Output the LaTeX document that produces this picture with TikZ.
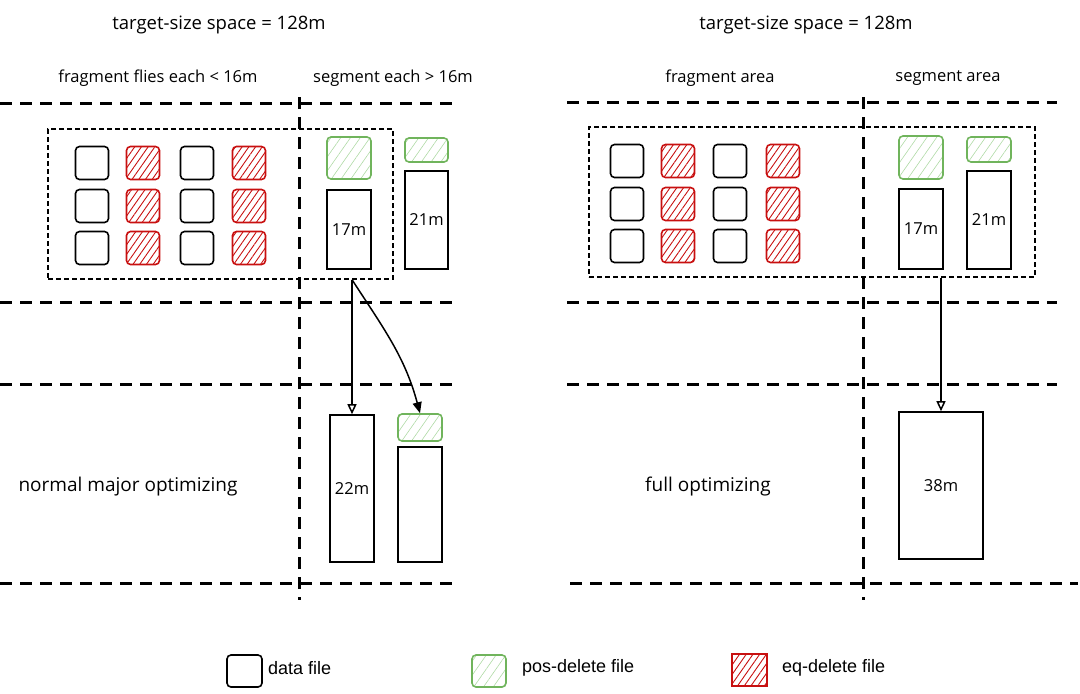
\documentclass[tikz,border=0pt]{standalone}
\usepackage{fontspec}
\setmainfont{Open Sans}
\newfontfamily\legfont{Liberation Sans}
\usetikzlibrary{patterns.meta,arrows.meta}
\definecolor{hred}{RGB}{200,16,16}
\definecolor{hgreen}{RGB}{112,180,92}
\definecolor{hgreenl}{RGB}{175,218,165}
\begin{document}
\begin{tikzpicture}[x=1pt,y=-1pt,
  file/.style={draw, line width=1.6pt, rounded corners=4pt, minimum width=33pt, minimum height=33pt, inner sep=0pt},
  datafile/.style={file},
  eqfile/.style={file, draw=hred, pattern={Lines[angle=55,distance=5.5pt,line width=0.9pt]}, pattern color=hred},
  posfile/.style={file, draw=hgreen, pattern={Lines[angle=55,distance=8pt,line width=0.6pt]}, pattern color=hgreenl},
  segbox/.style={draw, line width=1.6pt, inner sep=0pt, font=\fontsize{16.5}{19}\selectfont},
  sepline/.style={line width=3pt, dash pattern=on 12pt off 8pt},
  framebox/.style={draw, line width=1.3pt, dash pattern=on 5pt off 3pt, inner sep=0pt},
  title/.style={font=\fontsize{18.5}{22}\selectfont},
  hdr/.style={font=\fontsize{16.5}{20}\selectfont},
  mode/.style={font=\fontsize{19}{23}\selectfont},
  legtext/.style={font=\legfont\fontsize{18}{21}\selectfont, anchor=west, inner sep=0pt},
  openarrow/.style={line width=1.5pt, -{Triangle[open,length=10pt,width=9pt]}},
  fillarrow/.style={line width=1.5pt, -{Triangle[length=11pt,width=9pt]}}
]
\useasboundingbox (0,0) rectangle (1080,694);

% ---------- separator lines ----------
\foreach \yy in {103,302,384,583} {
  \draw[sepline] (0,\yy) -- (455,\yy);
}
\foreach \yy in {102,302,384} {
  \draw[sepline] (567,\yy) -- (1057,\yy);
}
\draw[sepline] (570,583) -- (1078,583);
\draw[sepline] (299,97) -- (299,600);
\draw[sepline] (863,97) -- (863,600);

% ---------- titles ----------
\node[title] (tL) at (219,25) {target-size space = 128m};
\node[title] (tR) at (806,25) {target-size space = 128m};
\node[hdr] (hL1) at (158,78) {fragment flies each < 16m};
\node[hdr] (hL2) at (393,78) {segment each > 16m};
\node[hdr] (hR1) at (720,78) {fragment area};
\node[hdr] (hR2) at (948,78) {segment area};
\node[mode] (mL) at (128,487) {normal major optimizing};
\node[mode] (mR) at (708,487) {full optimizing};

% ---------- frames ----------
\node[framebox, minimum width=345pt, minimum height=150pt] (frameL) at (220.5,204) {};
\node[framebox, minimum width=446pt, minimum height=150pt] (frameR) at (812,202) {};

% ---------- left fragment grid ----------
\foreach \r/\yy in {1/163,2/206,3/248} {
  \node[datafile] (dl1\r) at (92,\yy) {};
  \node[eqfile]   (el1\r) at (143,\yy) {};
  \node[datafile] (dl2\r) at (197,\yy) {};
  \node[eqfile]   (el2\r) at (249,\yy) {};
}
% ---------- right fragment grid ----------
\foreach \r/\yy in {1/161,2/204,3/246} {
  \node[datafile] (dr1\r) at (627,\yy) {};
  \node[eqfile]   (er1\r) at (678,\yy) {};
  \node[datafile] (dr2\r) at (730,\yy) {};
  \node[eqfile]   (er2\r) at (783,\yy) {};
}

% ---------- left segments ----------
\node[posfile, minimum width=44pt, minimum height=42pt] (gL1) at (349,158) {};
\node[segbox, minimum width=44pt, minimum height=79pt] (b17L) at (349,229.5) {17m};
\node[posfile, minimum width=43pt, minimum height=24pt] (gL2) at (426.5,150) {};
\node[segbox, minimum width=43pt, minimum height=98pt] (b21L) at (426.5,220) {21m};

\node[segbox, minimum width=44pt, minimum height=147pt] (b22) at (352,488.5) {22m};
\node[posfile, minimum width=44pt, minimum height=27pt] (g22) at (420,427.5) {};
\node[segbox, minimum width=44pt, minimum height=115pt] (bE) at (420,504.5) {};

% ---------- right segments ----------
\node[posfile, minimum width=44pt, minimum height=43pt] (gR1) at (921,157.5) {};
\node[segbox, minimum width=44pt, minimum height=80pt] (b17R) at (921,229) {17m};
\node[posfile, minimum width=44pt, minimum height=25pt] (gR2) at (989,149.5) {};
\node[segbox, minimum width=44pt, minimum height=98pt] (b21R) at (989,220) {21m};

\node[segbox, minimum width=84pt, minimum height=147pt] (b38) at (941,485.5) {38m};

% ---------- arrows ----------
\draw[openarrow] (frameL.south -| b22.north) -- (b22.north);
\draw[fillarrow] (frameL.south -| b22.north) to[out=-57,in=105] (g22.north);
\draw[openarrow] (frameR.south -| b38.north) -- (b38.north);

% ---------- legend ----------
\node[datafile, minimum width=35pt, minimum height=32pt] (lg1) at (244.5,671) {};
\node[legtext] (lt1) at (268,668) {data file};
\node[posfile, minimum width=34pt, minimum height=32pt] (lg2) at (489,671) {};
\node[legtext] (lt2) at (522,668) {pos-delete file};
\node[eqfile, rounded corners=0pt, minimum width=35pt, minimum height=32pt] (lg3) at (749.5,670) {};
\node[legtext] (lt3) at (782,668) {eq-delete file};
\end{tikzpicture}
\end{document}
